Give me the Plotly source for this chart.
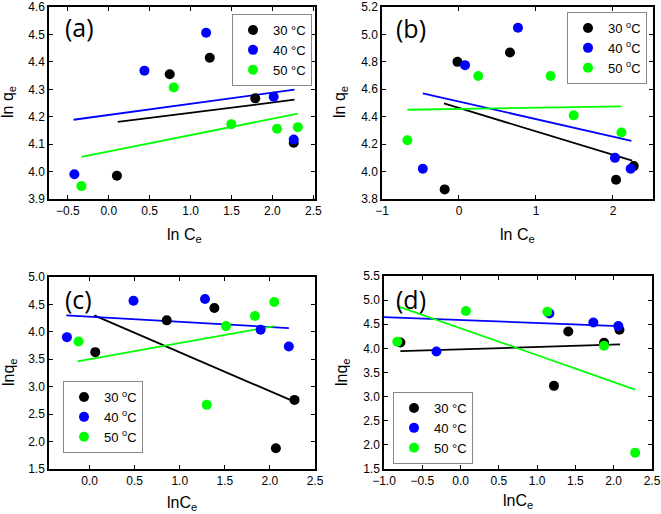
import plotly.graph_objects as go

# ---------------- data ----------------
temps = ["30", "40", "50"]
colors = ["#000000", "#0000ff", "#00ff00"]

# panel (a)
a_x = [[0.10, 0.745, 1.234, 1.79, 2.26],
       [-0.42, 0.436, 1.19, 2.015, 2.26],
       [-0.334, 0.794, 1.498, 2.056, 2.31]]
a_y = [[3.985, 4.355, 4.415, 4.267, 4.105],
       [3.99, 4.368, 4.506, 4.273, 4.117],
       [3.947, 4.307, 4.173, 4.156, 4.162]]
a_fit_x = [[0.11, 2.27], [-0.43, 2.27], [-0.334, 2.31]]
a_fit_y = [[4.181, 4.262], [4.189, 4.299], [4.054, 4.211]]

# panel (b)
b_x = [[-0.186, -0.02, 0.662, 2.04, 2.27],
       [-0.47, 0.078, 0.766, 2.026, 2.23],
       [-0.67, 0.25, 1.19, 1.49, 2.11]]
b_y = [[3.87, 4.80, 4.868, 3.94, 4.04],
       [4.02, 4.776, 5.049, 4.10, 4.02],
       [4.229, 4.697, 4.697, 4.41, 4.285]]
b_fit_x = [[-0.195, 2.25], [-0.47, 2.24], [-0.67, 2.11]]
b_fit_y = [[4.497, 4.08], [4.571, 4.224], [4.451, 4.475]]

# panel (c)
c_x = [[0.063, 0.856, 1.384, 2.066, 2.273],
       [-0.251, 0.487, 1.28, 1.897, 2.21],
       [-0.122, 1.30, 1.513, 1.834, 2.048]]
c_y = [[3.63, 4.21, 4.434, 1.878, 2.76],
       [3.904, 4.568, 4.598, 4.038, 3.734],
       [3.825, 2.669, 4.105, 4.288, 4.544]]
c_fit_x = [[0.052, 2.258], [-0.258, 2.21], [-0.133, 2.048]]
c_fit_y = [[4.30, 2.736], [4.30, 4.069], [3.46, 4.105]]

# panel (d)
d_x = [[-0.786, 1.22, 1.407, 1.874, 2.075],
       [-0.315, 1.16, 1.734, 2.06],
       [-0.826, 0.07, 1.133, 1.874, 2.28]]
d_y = [[4.123, 3.223, 4.351, 4.116, 4.386],
       [3.936, 4.725, 4.538, 4.462],
       [4.137, 4.773, 4.76, 4.054, 1.839]]
d_fit_x = [[-0.786, 2.083], [-1.0, 2.066], [-0.826, 2.28]]
d_fit_y = [[3.943, 4.081], [4.649, 4.462], [4.877, 3.147]]

# ---------------- figure ----------------
W, H = 661, 514
fig = go.Figure()

panels = [
    dict(px=a_x, py=a_y, fx=a_fit_x, fy=a_fit_y, ax="", leg="legend",
         lab="{} °C"),
    dict(px=b_x, py=b_y, fx=b_fit_x, fy=b_fit_y, ax="2", leg="legend2",
         lab="{} <sup>o</sup>C"),
    dict(px=c_x, py=c_y, fx=c_fit_x, fy=c_fit_y, ax="3", leg="legend3",
         lab="{} <sup>o</sup>C"),
    dict(px=d_x, py=d_y, fx=d_fit_x, fy=d_fit_y, ax="4", leg="legend4",
         lab="{} °C"),
]

for p in panels:
    xa, ya = "x" + p["ax"], "y" + p["ax"]
    for i in range(3):
        fig.add_trace(go.Scatter(x=p["fx"][i], y=p["fy"][i], mode="lines",
                                 line=dict(color=colors[i], width=1.8),
                                 showlegend=False, xaxis=xa, yaxis=ya,
                                 hoverinfo="skip"))
    for i in range(3):
        fig.add_trace(go.Scatter(x=p["px"][i], y=p["py"][i], mode="markers",
                                 marker=dict(color=colors[i], size=10),
                                 name=p["lab"].format(temps[i]),
                                 legend=p["leg"], xaxis=xa, yaxis=ya))

def px2x(v):
    return v / W

def px2y(v):
    return 1 - v / H

axis_common = dict(showline=True, linecolor="black", linewidth=1.5,
                   mirror="ticks", ticks="inside", ticklen=4, tickwidth=1,
                   tickcolor="black", showgrid=False, zeroline=False,
                   tickfont=dict(family="Liberation Sans", size=12, color="black"),
                   automargin=False)

boxes = {
    "": ((49, 315), (7, 199), [-0.73, 2.52], [3.9, 4.6001], 0.5, 0.1, ".1f", ".1f"),
    "2": ((382, 653), (7, 199), [-1.0, 2.52], [3.8, 5.2001], 1, 0.2, "d", ".1f"),
    "3": ((49, 315), (277, 469), [-0.45, 2.5001], [1.5, 5.0001], 0.5, 0.5, ".1f", ".1f"),
    "4": ((384, 652), (276, 469), [-1.0, 2.5001], [1.5, 5.5001], 0.5, 0.5, ".1f", ".1f"),
}

lay = {}
for k, (xs, ys, xr, yr, dx, dy, fx, fy) in boxes.items():
    lay["xaxis" + k] = dict(axis_common, domain=[px2x(xs[0]), px2x(xs[1])],
                            range=xr, dtick=dx, tick0=0, tickformat=fx,
                            anchor="y" + k)
    lay["yaxis" + k] = dict(axis_common, domain=[px2y(ys[1]), px2y(ys[0])],
                            range=yr, dtick=dy, tick0=0, tickformat=fy,
                            anchor="x" + k)

leg_common = dict(bordercolor="#888888", borderwidth=1, bgcolor="white",
                  font=dict(family="Liberation Sans", size=13, color="black"),
                  xanchor="left", yanchor="top", tracegroupgap=0,
                  itemwidth=30)
lay["legend"] = dict(leg_common, x=px2x(232), y=px2y(14))
lay["legend2"] = dict(leg_common, x=px2x(567), y=px2y(12))
lay["legend3"] = dict(leg_common, x=px2x(63), y=px2y(381))
lay["legend4"] = dict(leg_common, x=px2x(393), y=px2y(392))

fig.update_layout(**lay)

tfont = dict(family="Liberation Sans", size=16, color="black")
lfont = dict(family="Open Sans", size=25, color="black")
annots = [
    # axis titles
    dict(text="ln C<sub>e</sub>", x=px2x(184), y=px2y(236)),
    dict(text="ln q<sub>e</sub>", x=px2x(9), y=px2y(102), textangle=-90),
    dict(text="ln C<sub>e</sub>", x=px2x(517), y=px2y(236)),
    dict(text="ln q<sub>e</sub>", x=px2x(341), y=px2y(102), textangle=-90),
    dict(text="lnC<sub>e</sub>", x=px2x(182), y=px2y(503)),
    dict(text="lnq<sub>e</sub>", x=px2x(9), y=px2y(372), textangle=-90),
    dict(text="lnC<sub>e</sub>", x=px2x(518), y=px2y(501)),
    dict(text="lnq<sub>e</sub>", x=px2x(342), y=px2y(372), textangle=-90),
]
for a in annots:
    fig.add_annotation(xref="paper", yref="paper", showarrow=False,
                       xanchor="center", yanchor="middle", font=tfont, **a)

for txt, x, y in [("(a)", 79, 27), ("(b)", 411, 28), ("(c)", 78, 299), ("(d)", 411, 299)]:
    fig.add_annotation(xref="paper", yref="paper", showarrow=False, text=txt,
                       x=px2x(x), y=px2y(y), xanchor="center", yanchor="middle",
                       font=lfont)

fig.update_layout(width=W, height=H, margin=dict(l=0, r=0, t=0, b=0),
                  paper_bgcolor="white", plot_bgcolor="white")

fig.write_html("out.html", config={"displayModeBar": False},
               post_script="document.body.style.margin='0px';")
